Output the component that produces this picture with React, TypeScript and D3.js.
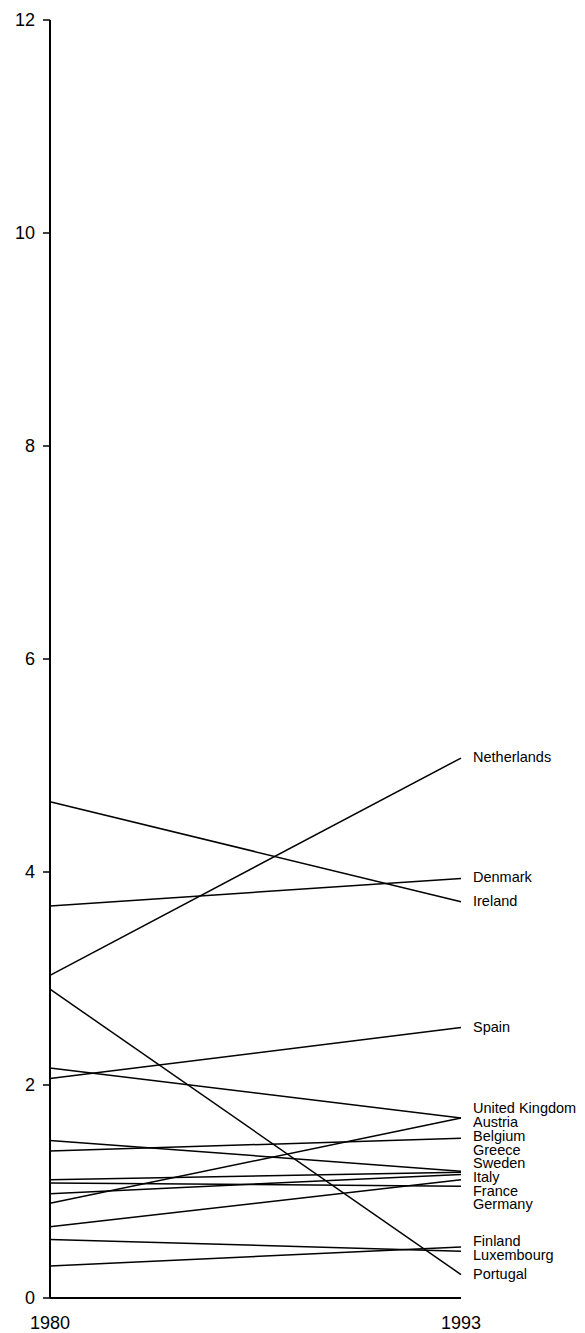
import React from "react";
import * as d3 from "d3";

const countries = [
  "Netherlands", "Denmark", "Ireland", "Spain", "United Kingdom", "Austria",
  "Belgium", "Greece", "Sweden", "Italy", "France", "Germany",
  "Finland", "Luxembourg", "Portugal",
];
const values1980 = [3.03, 3.68, 4.66, 2.06, 2.16, 0.89, 1.38, 1.48, 1.11, 0.98, 0.67, 1.08, 0.3, 0.55, 2.9];
const values1993 = [5.07, 3.94, 3.72, 2.54, 1.69, 1.69, 1.5, 1.19, 1.18, 1.16, 1.11, 1.05, 0.48, 0.44, 0.22];
const years = [1980, 1993];
const yTicks = [0, 2, 4, 6, 8, 10, 12];

const W = 585;
const H = 1333;

export default function App() {
  const x = d3.scaleLinear().domain([1980, 1993]).range([50, 461]);
  const y = d3.scaleLinear().domain([0, 12]).range([1298, 20]);

  const rows = countries.map((c, i) => ({ c, a: values1980[i], b: values1993[i] }));

  // label collision avoidance
  const order = rows.map((r, i) => i).sort((p, q) => rows[q].b - rows[p].b || p - q);
  const ly = order.map((i) => y(rows[i].b));
  const gap = 13.7;
  for (let it = 0; it < 500; it++) {
    let moved = false;
    for (let k = 0; k < ly.length - 1; k++) {
      const d = ly[k + 1] - ly[k];
      if (d < gap - 0.01) {
        const s = (gap - d) / 2;
        ly[k] -= s;
        ly[k + 1] += s;
        moved = true;
      }
    }
    if (!moved) break;
  }
  const labelY: Record<number, number> = {};
  order.forEach((i, k) => (labelY[i] = ly[k]));

  const line = d3
    .line<[number, number]>()
    .x((d) => x(d[0]))
    .y((d) => y(d[1]));

  return (
    <div style={{ position: "absolute", left: 0, top: 0 }}>
      <svg width={W} height={H} style={{ display: "block" }} fontFamily="'Liberation Sans', Arial, sans-serif">
        <line x1={x(1980)} x2={x(1980)} y1={y(12)} y2={y(0)} stroke="#000" strokeWidth={2} />
        <line x1={x(1980)} x2={x(1993)} y1={y(0)} y2={y(0)} stroke="#000" strokeWidth={2} />
        {yTicks.map((t) => (
          <g key={t}>
            <line x1={x(1980) - 7} x2={x(1980)} y1={y(t)} y2={y(t)} stroke="#000" strokeWidth={1.5} />
            <text x={x(1980) - 15} y={y(t)} dy="0.35em" textAnchor="end" fontSize={18}>
              {t}
            </text>
          </g>
        ))}
        {years.map((yr) => (
          <text key={yr} x={x(yr)} y={1329} textAnchor="middle" fontSize={18}>
            {yr}
          </text>
        ))}
        {rows.map((r) => (
          <path
            key={r.c}
            d={line([
              [1980, r.a],
              [1993, r.b],
            ]) || ""}
            fill="none"
            stroke="#000"
            strokeWidth={1.5}
          />
        ))}
        {rows.map((r, i) => (
          <text key={r.c} x={x(1993) + 12} y={labelY[i] - 1} dy="0.35em" fontSize={14.5}>
            {r.c}
          </text>
        ))}
      </svg>
    </div>
  );
}
